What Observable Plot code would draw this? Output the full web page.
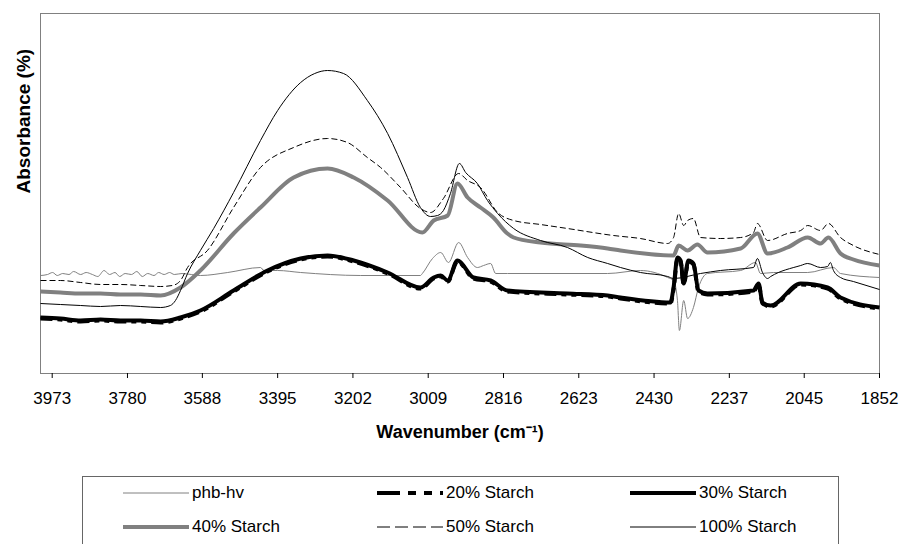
<!DOCTYPE html>
<html><head><meta charset="utf-8">
<script src="https://cdn.jsdelivr.net/npm/d3@7"></script>
<script src="https://cdn.jsdelivr.net/npm/@observablehq/plot@0.6"></script>
<style>
body{margin:0;background:#fff;font-family:"Liberation Sans",Arial,sans-serif;}
#wrap{position:relative;width:899px;height:544px;overflow:hidden;background:#fff;}
#legend{position:absolute;left:82px;top:476px;width:757px;height:90px;border:1px solid #666;box-sizing:border-box;}
.item{position:absolute;display:flex;align-items:center;font-size:17px;color:#000;height:20px;white-space:nowrap;}
.item svg{display:block;margin-right:3px;}
</style></head><body><div id="wrap"><div id="chart"></div><div id="legend"></div></div>
<script>
// Tick labels (wavenumber, cm-1)
const xTicks = [3973, 3780, 3588, 3395, 3202, 3009, 2816, 2623, 2430, 2237, 2045, 1852];

// [wavenumber, absorbance (arb.)]
const phbhv = [[4003,0.245],[3985,0.2475],[3972,0.2525],[3960,0.245],[3946,0.25],[3930,0.2475],[3918,0.255],[3900,0.2475],[3886,0.2525],[3870,0.2475],[3856,0.2425],[3840,0.2575],[3826,0.2475],[3812,0.2525],[3800,0.2425],[3786,0.25],[3770,0.2475],[3756,0.255],[3742,0.2425],[3728,0.25],[3712,0.245],[3700,0.2525],[3686,0.2475],[3672,0.2525],[3660,0.2475],[3640,0.25],[3593,0.245],[3523,0.2525],[3439,0.265],[3430,0.2575],[3395,0.2575],[3336,0.2525],[3182,0.245],[3029,0.245],[3024,0.25],[2998,0.2875],[2977,0.3025],[2957,0.2775],[2931,0.3275],[2908,0.29],[2883,0.265],[2867,0.27],[2849,0.275],[2836,0.25],[2806,0.25],[2549,0.25],[2465,0.2575],[2395,0.24],[2380,0.2325],[2370,0.1825],[2365,0.1075],[2354,0.1825],[2344,0.1375],[2329,0.165],[2316,0.215],[2293,0.25],[2208,0.2575],[2170,0.2775],[2157,0.25],[2124,0.2525],[2036,0.2525],[1970,0.265],[1952,0.25],[1852,0.24]];

const starch20 = [[4003,0.1375],[3952,0.135],[3900,0.13],[3849,0.1325],[3798,0.13],[3746,0.13],[3695,0.1275],[3644,0.1375],[3593,0.155],[3508,0.205],[3421,0.255],[3336,0.285],[3267,0.2925],[3200,0.28],[3113,0.25],[3029,0.2125],[2995,0.2375],[2977,0.2425],[2959,0.23],[2934,0.28],[2893,0.2375],[2849,0.23],[2806,0.205],[2652,0.1975],[2549,0.1925],[2516,0.1875],[2388,0.175],[2380,0.21],[2370,0.285],[2362,0.28],[2354,0.2225],[2342,0.28],[2329,0.2725],[2316,0.205],[2293,0.1975],[2175,0.205],[2162,0.2225],[2152,0.175],[2131,0.1675],[2054,0.2225],[1985,0.2125],[1952,0.1875],[1852,0.1625]];

const starch30 = [[4003,0.14],[3952,0.1375],[3900,0.1325],[3849,0.135],[3798,0.1325],[3746,0.1325],[3695,0.13],[3644,0.14],[3593,0.1575],[3508,0.2075],[3421,0.2575],[3336,0.2875],[3267,0.295],[3200,0.2825],[3113,0.2525],[3029,0.215],[2995,0.24],[2977,0.245],[2959,0.2325],[2934,0.2825],[2893,0.24],[2849,0.2325],[2806,0.2075],[2652,0.2],[2549,0.195],[2516,0.19],[2388,0.1775],[2380,0.215],[2370,0.29],[2362,0.2825],[2354,0.225],[2342,0.2825],[2329,0.275],[2316,0.2075],[2293,0.2],[2175,0.2075],[2162,0.225],[2152,0.1775],[2131,0.17],[2054,0.225],[1985,0.215],[1952,0.19],[1852,0.165]];

const starch40 = [[4003,0.205],[3952,0.2025],[3900,0.2],[3849,0.2],[3798,0.1975],[3746,0.1975],[3695,0.195],[3644,0.215],[3593,0.2575],[3508,0.35],[3439,0.415],[3354,0.49],[3267,0.5125],[3200,0.49],[3113,0.4325],[3024,0.3525],[2995,0.3825],[2959,0.395],[2934,0.475],[2908,0.44],[2875,0.415],[2842,0.39],[2806,0.35],[2790,0.34],[2721,0.3275],[2618,0.32],[2549,0.3125],[2516,0.3075],[2380,0.295],[2367,0.32],[2344,0.3075],[2319,0.3225],[2293,0.3025],[2208,0.3125],[2165,0.35],[2139,0.3],[2088,0.315],[2036,0.34],[2003,0.325],[1983,0.34],[1952,0.3],[1919,0.285],[1852,0.27]];

const starch50 = [[4003,0.2325],[3952,0.2325],[3900,0.2275],[3849,0.2225],[3798,0.2225],[3746,0.22],[3695,0.2175],[3665,0.22],[3644,0.2325],[3626,0.265],[3575,0.3075],[3508,0.415],[3439,0.515],[3354,0.565],[3267,0.5875],[3216,0.5775],[3165,0.54],[3131,0.515],[3080,0.465],[3029,0.4125],[3003,0.4025],[2970,0.4375],[2931,0.5],[2908,0.4825],[2875,0.465],[2831,0.4025],[2790,0.3825],[2721,0.3725],[2652,0.3625],[2534,0.345],[2465,0.3375],[2395,0.325],[2380,0.34],[2367,0.4],[2354,0.37],[2344,0.3825],[2329,0.3875],[2311,0.34],[2260,0.3375],[2208,0.34],[2175,0.3525],[2165,0.375],[2139,0.3325],[2088,0.35],[2054,0.3575],[2036,0.37],[2003,0.3575],[1983,0.375],[1952,0.34],[1919,0.32],[1852,0.2975]];

const starch100 = [[4003,0.175],[3952,0.1725],[3900,0.17],[3849,0.1675],[3798,0.17],[3746,0.1675],[3695,0.165],[3670,0.17],[3657,0.1825],[3644,0.2075],[3626,0.25],[3593,0.3075],[3559,0.3625],[3508,0.4525],[3439,0.5825],[3395,0.6575],[3336,0.7275],[3300,0.75],[3267,0.7575],[3226,0.75],[3165,0.6825],[3113,0.6],[3062,0.49],[3029,0.415],[3003,0.3925],[2985,0.395],[2970,0.4075],[2952,0.45],[2929,0.525],[2913,0.5025],[2883,0.475],[2857,0.4325],[2831,0.4],[2790,0.3625],[2721,0.3325],[2652,0.315],[2600,0.29],[2549,0.275],[2516,0.265],[2465,0.2525],[2395,0.2425],[2380,0.2375],[2311,0.25],[2260,0.2575],[2175,0.265],[2165,0.2875],[2152,0.2525],[2139,0.2375],[2131,0.2425],[2054,0.27],[2036,0.275],[2003,0.265],[1985,0.2675],[1978,0.2775],[1970,0.2575],[1952,0.24],[1919,0.23],[1852,0.21]];

const seriesNames = ["phb-hv", "20% Starch", "30% Starch", "40% Starch", "50% Starch", "100% Starch"];
const seriesData = [phbhv, starch20, starch30, starch40, starch50, starch100];
const seriesStyle = [
  {stroke: "#808080", strokeWidth: 1, dash: null, legendDash: null},
  {stroke: "#000000", strokeWidth: 4, dash: "12,5,5,5,5,5", legendDash: "23,8,8,8,8,8"},
  {stroke: "#000000", strokeWidth: 4, dash: null, legendDash: null},
  {stroke: "#808080", strokeWidth: 4, dash: null, legendDash: null},
  {stroke: "#000000", strokeWidth: 1, dash: "6,3", legendDash: "13,5"},
  {stroke: "#000000", strokeWidth: 1, dash: null, legendDash: null}
];

const lineMarks = seriesData.map((data, i) => Plot.line(data, {
  x: d => d[0], y: d => d[1],
  stroke: seriesStyle[i].stroke, strokeWidth: seriesStyle[i].strokeWidth,
  strokeDasharray: seriesStyle[i].dash || undefined,
  curve: "monotone-x",
  strokeLinejoin: "round", strokeLinecap: "butt"
}));

const chart = Plot.plot({
  width: 899, height: 460,
  marginLeft: 40, marginRight: 20, marginTop: 13, marginBottom: 87,
  style: {fontFamily: "'Liberation Sans', Arial, sans-serif", background: "#fff", color: "#000"},
  x: {domain: [4003, 1852]},
  y: {domain: [0, 0.9], axis: null},
  marks: [
    Plot.frame({stroke: "#808080"}),
    Plot.axisX({ticks: xTicks, tickFormat: d => String(d), tickSize: 5, tickPadding: 13, fontSize: 17, label: null}),
    ...lineMarks,
    Plot.text(["Absorbance (%)"], {text: d => d, frameAnchor: "left", rotate: -90, dx: -17, dy: 0, fontSize: 19, fontWeight: "bold"}),
    Plot.text(["Wavenumber (cm⁻¹)"], {text: d => d, frameAnchor: "bottom", dy: 64, fontSize: 18, fontWeight: "bold"})
  ]
});
document.getElementById("chart").appendChild(chart);

// Legend
const legend = document.getElementById("legend");
const pos = [[40,6],[294,6],[547,6],[40,40],[294,40],[547,40]];
seriesNames.forEach((name, i) => {
  const item = document.createElement("div");
  item.className = "item";
  item.style.left = pos[i][0] + "px";
  item.style.top = pos[i][1] + "px";
  const s = seriesStyle[i];
  item.innerHTML = `<svg width="66" height="20"><line x1="0" x2="66" y1="10" y2="10" stroke="${s.stroke}" stroke-width="${s.strokeWidth}" ${s.legendDash ? `stroke-dasharray="${s.legendDash}"` : ""}/></svg><span>${name}</span>`;
  legend.appendChild(item);
});
</script>
</body></html>
